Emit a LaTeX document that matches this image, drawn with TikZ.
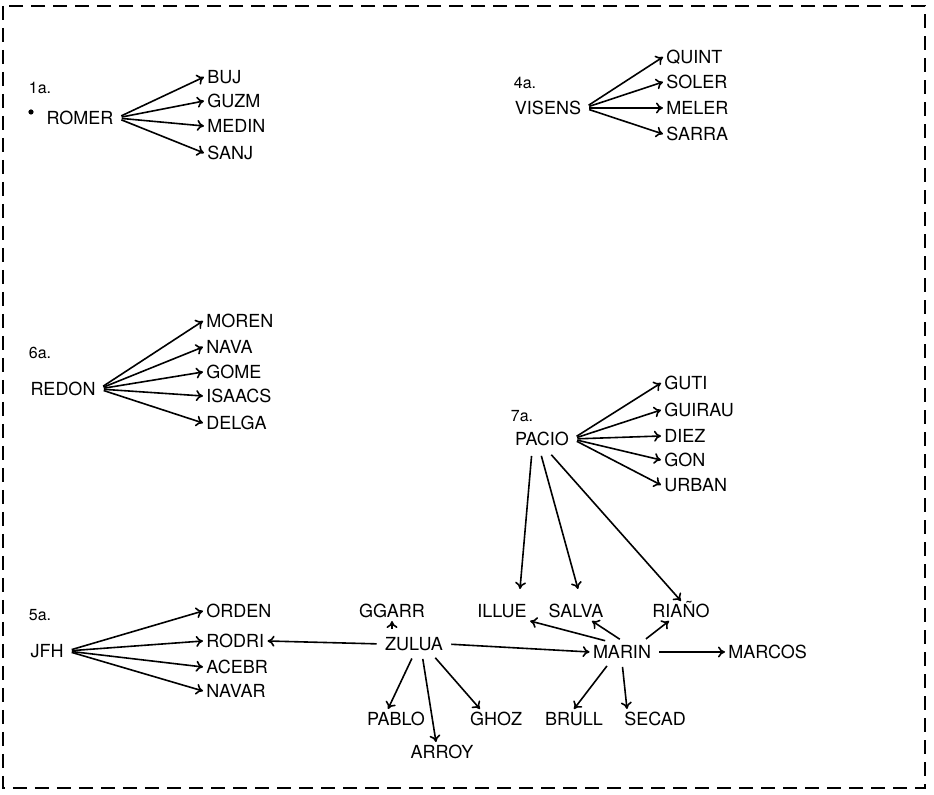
\documentclass[tikz,border=0pt]{standalone}
\usepackage{fontspec}
\setmainfont{TeX Gyre Heros}
\usetikzlibrary{calc,arrows.meta}
\tikzset{
  person/.style={inner sep=1.5pt, text height=6.6pt, text depth=0pt, font=\fontsize{9}{10}\selectfont},
  group/.style={inner sep=1pt, font=\fontsize{8}{9}\selectfont},
  link/.style={thick, -{To[length=3.5pt,width=5.5pt]}, shorten <=2.5pt},
  frame/.style={semithick, dash pattern=on 7pt off 4pt}
}

\begin{document}
\begin{tikzpicture}[x=0.5pt, y=-0.5pt]
                    \useasboundingbox (0,0) rectangle (934,795);
                    \draw[frame] (3,6) rectangle (925,788);
                    % 1a.
                    \node[group] (one) at (40,88) {1a.};
                    \fill (31,112) circle (2.6);
                    \node[person] (ROMER) at (80,118) {ROMER};
                    \foreach \t/\y in {BUJ/77, GUZM/101, MEDIN/126, SANJ/153}{
                        \node[person, anchor=west] (\t) at (204,\y) {\t};
                        \draw[link] (ROMER.east) -- (\t.west);
                    }
                    % 4a.
                    \node[group] (four) at (525,83) {4a.};
                    \node[person] (VISENS) at (548,108) {VISENS};
                    \foreach \t/\y in {QUINT/57, SOLER/82, MELER/108, SARRA/134}{
                        \node[person, anchor=west] (\t) at (663,\y) {\t};
                        \draw[link] (VISENS.east) -- (\t.west);
                    }
                    % 6a.
                    \node[group] (six) at (40,353) {6a.};
                    \node[person] (REDON) at (63,389) {REDON};
                    \foreach \t/\y in {MOREN/321, NAVA/347, GOME/372, ISAACS/396, DELGA/423}{
                        \node[person, anchor=west] (\t) at (203,\y) {\t};
                        \draw[link] (REDON.east) -- (\t.west);
                    }
                    % 7a.
                    \node[group] (seven) at (522,416) {7a.};
                    \node[person] (PACIO) at (542,439) {PACIO};
                    \foreach \t/\y in {GUTI/383, GUIRAU/410, DIEZ/436, GON/460, URBAN/485}{
                        \node[person, anchor=west] (\t) at (661,\y) {\t};
                        \draw[link] (PACIO.east) -- (\t.west);
                    }
                    % 5a.
                    \node[group] (five) at (40,615) {5a.};
                    \node[person] (JFH) at (47,651) {JFH};
                    \foreach \t/\y in {ORDEN/611, RODRI/641, ACEBR/667, NAVAR/691}{
                        \node[person, anchor=west] (\t) at (203,\y) {\t};
                        \draw[link] (JFH.east) -- (\t.west);
                    }
                    % red central
                    \node[person] (GGARR) at (392,611) {GGARR};
                    \node[person] (ZULUA) at (414,644) {ZULUA};
                    \node[person] (ILLUE) at (502,611) {ILLUE};
                    \node[person] (SALVA) at (576,611) {SALVA};
                    \node[person] (RIANO) at (681,611) {RIA\~NO};
                    \node[person] (MARIN) at (622,652) {MARIN};
                    \node[person, anchor=west] (MARCOS) at (725,652) {MARCOS};
                    \node[person] (PABLO) at (396,719) {PABLO};
                    \node[person] (ARROY) at (442,752) {ARROY};
                    \node[person] (GHOZ) at (496,719) {GHOZ};
                    \node[person] (BRULL) at (574,719) {BRULL};
                    \node[person] (SECAD) at (655,719) {SECAD};

                    \draw[link] (ZULUA.north -| GGARR.south) -- (GGARR.south);
                    \draw[link] (ZULUA.west) -- (RODRI.east);
                    \draw[link] (ZULUA.east) -- (MARIN.west);
                    \draw[link] (ZULUA.south) -- ($(PABLO.north)+(-8,0)$);
                    \draw[link] ($(ZULUA.south)+(8,0)$) -- ($(ARROY.north)+(-6,0)$);
                    \draw[link] ($(ZULUA.south)+(18,0)$) -- ($(GHOZ.north)+(-16,0)$);

                    \draw[link] ($(PACIO.south)+(-10,2)$) -- ($(ILLUE.north)+(18,-12)$);
                    \draw[link] ($(PACIO.south)+(-2,2)$) -- ($(SALVA.north)+(2,-12)$);
                    \draw[link] ($(PACIO.south)+(6,2)$) -- (RIANO.north);

                    \draw[link] ($(MARIN.north)+(-12,0)$) -- (ILLUE.south east);
                    \draw[link] ($(MARIN.north)+(2,0)$) -- ($(SALVA.south)+(16,0)$);
                    \draw[link] ($(MARIN.north)+(20,0)$) -- ($(RIANO.south)+(-12,0)$);
                    \draw[link] (MARIN.east) -- (MARCOS.west);
                    \draw[link] ($(MARIN.south)+(-12,0)$) -- (BRULL.north);
                    \draw[link] (MARIN.south) -- ($(SECAD.north)+(-28,0)$);
                \end{tikzpicture}
\end{document}
